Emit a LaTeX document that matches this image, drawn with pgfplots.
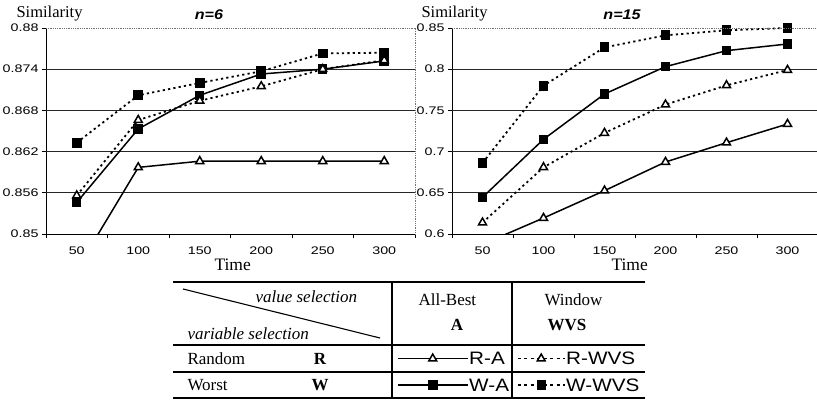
\documentclass[border=0pt]{standalone}
\usepackage{fontspec}
\setmainfont{Liberation Serif}
\newfontfamily\tickfont[FakeStretch=1.3]{Liberation Sans}
\newfontfamily\legfont[FakeStretch=1.15]{Liberation Sans}
\newfontfamily\titlefont[FakeStretch=1.15]{Liberation Sans}
\usepackage{pgfplots}
\usepackage{pgfplotstable}
\pgfplotsset{compat=1.18}

% similarity over time, n = 6  (t = 1..6 stands for 50..300)
\pgfplotstableread{
t  RA      WA      RWVS    WWVS
1  0.8448  0.8546  0.8556  0.8633
2  0.8597  0.8653  0.8666  0.8702
3  0.8606  0.8702  0.8694  0.8720
4  0.8606  0.8733  0.8715  0.8737
5  0.8606  0.8740  0.8740  0.8763
6  0.8606  0.8752  0.8753  0.8764
}\nsix

% similarity over time, n = 15
\pgfplotstableread{
t  RA      WA      RWVS    WWVS
1  0.5875  0.6445  0.6138  0.6862
2  0.6194  0.7149  0.6809  0.7800
3  0.6526  0.7699  0.7226  0.8265
4  0.6874  0.8031  0.7570  0.8411
5  0.7108  0.8225  0.7804  0.8472
6  0.7335  0.8306  0.7990  0.8500
}\nfifteen

\newcommand\tabsize{\fontsize{17bp}{20bp}\selectfont}
\newcommand\keysize{\legfont\fontsize{18bp}{18bp}\selectfont}

\pgfplotsset{
  ra/.style={black, solid, line width=1.5bp, mark=triangle*, mark size=4.6bp,
    mark options={solid, fill=white, draw=black, line width=1.5bp}},
  wa/.style={black, solid, line width=1.5bp, mark=square*, mark size=4bp,
    mark options={solid, fill=black, draw=black}},
  rwvs/.style={ra, dash pattern=on 2.2bp off 3.2bp, line width=1.8bp},
  wwvs/.style={wa, dash pattern=on 2.2bp off 3.2bp, line width=1.8bp},
  panel/.style={
    scale only axis, height=206bp, anchor=south west,
    axis lines*=left, axis line style={black, line width=0.9bp, -},
    xmin=0.5, xmax=6.5,
    xtick={1,...,6}, xticklabels={50,100,150,200,250,300},
    major x tick style={draw=none},
    minor xtick={0.5,1.5,...,6.5},
    minor x tick style={black, line width=0.8bp},
    minor tick length=4bp, major tick length=4bp,
    tick align=outside,
    y tick style={black, line width=0.8bp},
    ticklabel style={font=\tickfont\fontsize{11bp}{11bp}\selectfont},
    xticklabel style={yshift=-5bp},
    /pgf/number format/assume math mode=true,
    scaled y ticks=false,
    yticklabel style={/pgf/number format/fixed, /pgf/number format/precision=3},
    extra y tick labels={},
    extra y tick style={grid=major, major tick length=0pt},
    major grid style={black!85, line width=0.8bp},
    after end axis/.code={
      \draw[black!55, densely dotted, line width=0.8bp]
        (rel axis cs:0,1) -- (rel axis cs:1,1) -- (rel axis cs:1,0);
    },
  },
  legax/.style={
    hide axis, scale only axis, width=10bp, height=10bp,
    xmin=0, xmax=1, ymin=0, ymax=1, anchor=west,
    legend style={at={(0,0.5)}, anchor=west, draw=none, fill=none,
      inner sep=0pt, outer sep=0pt, nodes={inner sep=0pt}},
  },
  % key samples: long solid ones for All-Best, short dashed ones for Window
  longimg/.style={legend image code/.code={
    \draw[mark repeat=2, mark phase=2, ##1] plot coordinates {(0bp,0bp) (35bp,0bp) (70bp,0bp)};}},
  shortimg/.style={legend image code/.code={
    \draw[mark repeat=2, mark phase=2, ##1, dash pattern=on 3bp off 3.5bp, line width=1.4bp]
      plot coordinates {(0bp,0bp) (23.5bp,0bp) (47bp,0bp)};}},
}

\begin{document}
\begin{tikzpicture}
\useasboundingbox (0bp,0bp) rectangle (817bp,402bp);

% ---- n = 6 ----
\begin{axis}[panel, at={(46bp,168bp)}, width=369bp,
  ymin=0.85, ymax=0.88, ytick={0.85,0.856,0.862,0.868,0.874,0.88},
  extra y ticks={0.856,0.862,0.868,0.874}]
  \addplot[ra]   table[x=t, y=RA]   {\nsix};
  \addplot[wa]   table[x=t, y=WA]   {\nsix};
  \addplot[rwvs] table[x=t, y=RWVS] {\nsix};
  \addplot[wwvs] table[x=t, y=WWVS] {\nsix};
\end{axis}

% ---- n = 15 ----
\begin{axis}[panel, at={(452bp,168bp)}, width=366bp,
  ymin=0.6, ymax=0.85, ytick={0.6,0.65,0.7,0.75,0.8,0.85},
  extra y ticks={0.65,0.7,0.75,0.8}]
  \addplot[ra]   table[x=t, y=RA]   {\nfifteen};
  \addplot[wa]   table[x=t, y=WA]   {\nfifteen};
  \addplot[rwvs] table[x=t, y=RWVS] {\nfifteen};
  \addplot[wwvs] table[x=t, y=WWVS] {\nfifteen};
\end{axis}

% axis titles and labels
\node[anchor=base west, font=\fontsize{16.5bp}{18bp}\selectfont] at (13bp,384.5bp) {Similarity};
\node[anchor=base west, font=\fontsize{16.5bp}{18bp}\selectfont] at (418bp,384.5bp) {Similarity};
\node[font=\titlefont\bfseries\itshape\fontsize{14bp}{14bp}\selectfont] at (209bp,387bp) {n=6};
\node[font=\titlefont\bfseries\itshape\fontsize{14bp}{14bp}\selectfont] at (622bp,387bp) {n=15};
\node[anchor=base west, font=\fontsize{17.5bp}{18bp}\selectfont] at (211bp,131bp) {Time};
\node[anchor=base west, font=\fontsize{17.5bp}{18bp}\selectfont] at (608bp,131bp) {Time};

% ---- key table ----
\begin{scope}[line width=1.1bp]
  \draw (173bp,120bp) -- (645bp,120bp);
  \draw (173bp,57bp)  -- (645bp,57bp);
  \draw (173bp,30bp)  -- (645bp,30bp);
  \draw (173bp,4bp)   -- (645bp,4bp);
  \draw (392bp,120bp) -- (392bp,4bp);
  \draw (512bp,120bp) -- (512bp,4bp);
  \draw (183bp,113bp) -- (380bp,64bp);
\end{scope}
\node[anchor=base west, font=\tabsize\itshape] at (252bp,99bp) {value selection};
\node[anchor=base west, font=\tabsize\itshape] at (184bp,62bp) {variable selection};
\node[anchor=base west, font=\tabsize] at (184bp,38bp) {Random};
\node[anchor=base, font=\tabsize\bfseries] at (320bp,38bp) {R};
\node[anchor=base west, font=\tabsize] at (184bp,11.5bp) {Worst};
\node[anchor=base, font=\tabsize\bfseries] at (320bp,11.5bp) {W};
\node[anchor=base west, font=\tabsize] at (415bp,96bp) {All-Best};
\node[anchor=base, font=\tabsize\bfseries] at (457bp,71bp) {A};
\node[anchor=base west, font=\tabsize] at (541bp,96bp) {Window};
\node[anchor=base, font=\tabsize\bfseries] at (567bp,71bp) {WVS};

% series names in the key
\node[anchor=base west, inner sep=0pt, font=\keysize] at (469bp,38bp) {R-A};
\node[anchor=base west, inner sep=0pt, font=\keysize] at (469bp,10.5bp) {W-A};
\node[anchor=base west, inner sep=0pt, font=\keysize] at (566bp,38bp) {R-WVS};
\node[anchor=base west, inner sep=0pt, font=\keysize] at (566bp,10.5bp) {W-WVS};

% line samples in the key
\begin{axis}[legax, at={(397bp,44.5bp)}]
  \addlegendimage{ra, longimg}
  \addlegendentry{}
\end{axis}
\begin{axis}[legax, at={(397bp,17bp)}]
  \addlegendimage{wa, longimg}
  \addlegendentry{}
\end{axis}
\begin{axis}[legax, at={(517bp,44.5bp)}]
  \addlegendimage{rwvs, shortimg}
  \addlegendentry{}
\end{axis}
\begin{axis}[legax, at={(517bp,17bp)}]
  \addlegendimage{wwvs, shortimg}
  \addlegendentry{}
\end{axis}
\end{tikzpicture}
\end{document}
